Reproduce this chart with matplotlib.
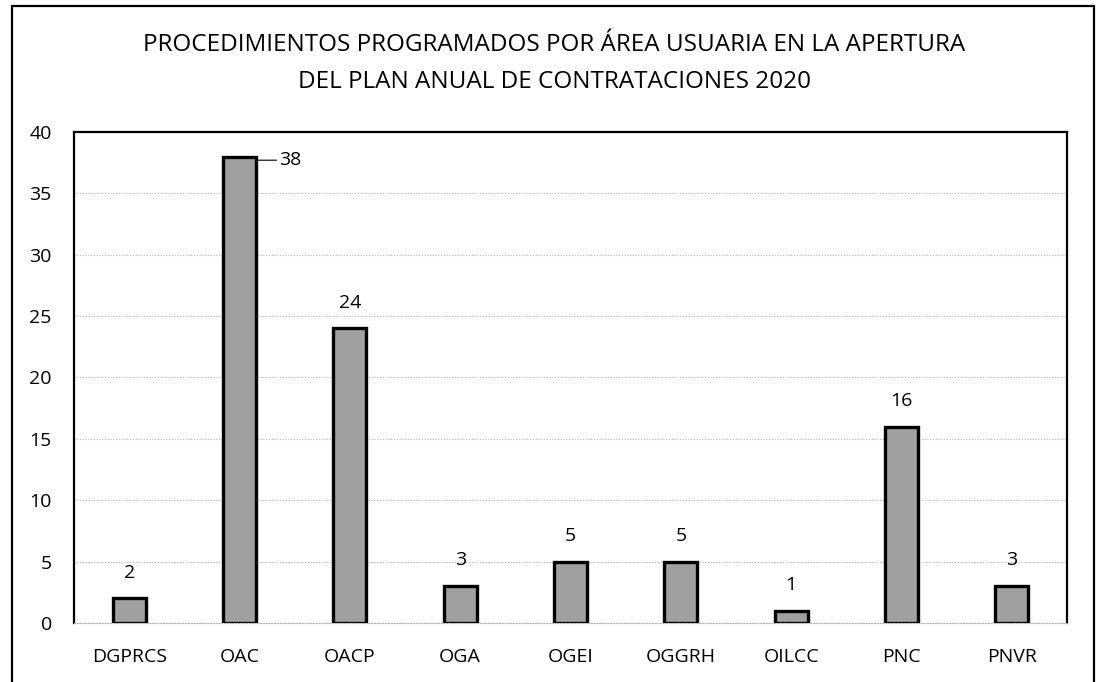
import matplotlib
matplotlib.use("Agg")
from matplotlib import pyplot as plt
from matplotlib.patches import Rectangle

# areas and number of procedures
areas = ['DGPRCS', 'OAC', 'OACP', 'OGA', 'OGEI', 'OGGRH', 'OILCC', 'PNC', 'PNVR']
counts = [2, 38, 24, 3, 5, 5, 1, 16, 3]
yticks = [0, 5, 10, 15, 20, 25, 30, 35, 40]
title = ('PROCEDIMIENTOS PROGRAMADOS POR ÁREA USUARIA EN LA APERTURA\n'
         'DEL PLAN ANUAL DE CONTRATACIONES 2020')

plt.rcParams['font.family'] = ['Open Sans', 'DejaVu Sans']

fig = plt.figure(figsize=(10.98, 6.82), dpi=100)
# outer frame of the chart (bottom edge falls off the page)
fig.patches.append(Rectangle((0.011, -0.05), 0.985, 1.041, transform=fig.transFigure,
                             fill=False, edgecolor='black', linewidth=1.6))

ax = fig.add_axes([0.0674, 0.0865, 0.9044, 0.72])
x = list(range(len(areas)))
ax.bar(x, counts, width=0.30, color='#a0a0a0', edgecolor='black',
       linewidth=2.4, zorder=3)

for xi, v in zip(x, counts):
    if v == max(counts):
        # label sits beside the tallest bar with a short leader line
        ax.annotate(str(v), xy=(xi + 0.17, v - 0.3), xytext=(xi + 0.36, v - 0.3),
                    ha='left', va='center', fontsize=14,
                    arrowprops=dict(arrowstyle='-', color='black', lw=0.8,
                                    shrinkA=0, shrinkB=0))
    else:
        ax.text(xi, v + 2.1, str(v), ha='center', va='center', fontsize=14)

ax.set_ylim(0, 40)
ax.set_xlim(-0.5, len(areas) - 0.5)
ax.set_yticks(yticks)
ax.set_xticks(x)
ax.set_xticklabels(areas)
ax.tick_params(axis='both', length=0, labelsize=14)
ax.tick_params(axis='x', pad=18)
ax.tick_params(axis='y', pad=16)
ax.yaxis.grid(True, color='#b4b4b4', linestyle=(0, (1, 1.5)), linewidth=0.8, zorder=0)
for s in ['left', 'top', 'right']:
    ax.spines[s].set_linewidth(1.6)
ax.spines['bottom'].set_color('#b4b4b4')
ax.spines['bottom'].set_linestyle((0, (1, 1.5)))
ax.spines['bottom'].set_linewidth(0.8)

fig.text(0.505, 0.907, title, ha='center', va='center', fontsize=17.5,
         linespacing=1.68)

fig.savefig('out.png', dpi=100)
